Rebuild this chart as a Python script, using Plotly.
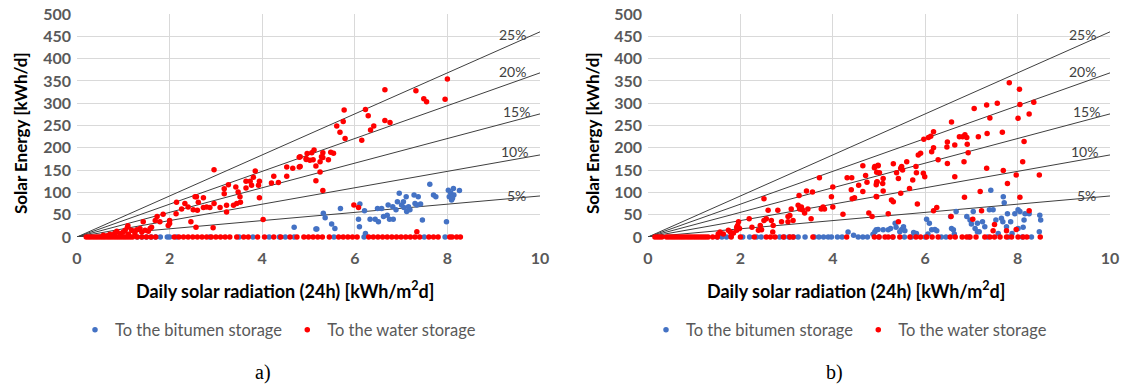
import plotly.graph_objects as go

# ---------------- data ----------------
eff_levels = [5, 10, 15, 20, 25]
eff_labels = ["5%", "10%", "15%", "20%", "25%"]
collector_area = 184.0  # m2 (slope of efficiency lines)
line_x = [0, 10]

# ---- chart a) ----
a_blue_x = [1.3, 1.4, 1.5, 1.6, 1.7, 1.8, 1.95, 2.0, 2.15, 2.87, 3.5, 3.8, 4.15, 4.37, 4.5, 4.69, 5.55, 6.2, 7.5, 7.95,
            4.69, 5.16, 5.32, 5.36, 5.18, 5.50, 5.57, 5.69, 6.11, 6.08, 6.10, 6.21, 6.23, 6.33, 6.44, 6.51, 6.49, 6.58,
            6.62, 6.70, 6.72, 6.75, 6.82, 6.83, 6.89, 6.92, 6.96, 7.01, 7.05, 7.06, 7.11, 7.12, 7.16, 7.19, 7.28, 7.30,
            7.34, 7.37, 7.42, 7.46, 7.62, 7.70, 7.75, 7.98, 8.02, 8.04, 8.07, 8.09, 8.13, 8.14, 8.11, 8.26]
a_blue_y = [0, 0, 0, 0, 0, 0, 0, 0, 0, 0, 0, 0, 0, 0, 0, 0, 0, 0, 0, 0,
            22, 18, 53, 43, 18, 29, 19, 64, 74, 40, 23, 59, 8, 40, 40, 34, 64, 64,
            46, 49, 72, 40, 68, 40, 61, 79, 98, 72, 79, 66, 90, 57, 68, 61, 94, 75,
            72, 90, 74, 38, 118, 94, 90, 34, 105, 90, 99, 83, 109, 94, 87, 104]

a_red_x = [0.2, 0.25, 0.3, 0.35, 0.4, 0.45, 0.5, 0.55, 0.6, 0.65, 0.7, 0.75, 0.8, 0.85, 0.9, 0.95, 1.0, 1.05,
           1.1, 1.15, 1.2, 1.3, 1.4, 1.5, 1.6, 1.7, 2.1, 2.2, 2.3, 2.4, 2.5, 2.6, 2.7, 2.8, 2.9, 3.0, 3.1, 3.2,
           3.3, 3.45, 3.6, 3.7, 3.9, 4.05, 4.25, 4.4, 4.6, 4.75, 4.9, 5.0, 5.1, 5.2, 5.3, 5.45, 5.65, 5.75, 5.85,
           5.95, 6.05, 6.3, 6.4, 6.5, 6.6, 6.7, 6.8, 6.9, 7.0, 7.1, 7.2, 7.3, 7.4, 7.6, 7.7, 7.8, 8.05, 8.1, 8.2, 8.28,
           0.57, 0.71, 0.82, 0.86, 0.93, 1.0, 1.04, 1.11, 1.18, 1.25, 1.29, 1.36, 1.40, 1.47, 1.54, 1.58, 1.61,
           0.65, 0.78, 0.95, 1.09, 1.1, 1.43, 1.73, 1.69, 1.86, 2.0, 2.0, 1.97, 1.79, 2.15, 2.14, 2.26, 2.33, 2.40,
           2.46, 2.57, 2.94, 2.96, 2.55, 2.58, 2.73, 2.62, 2.51, 2.60, 2.73, 2.80, 2.87, 2.96, 3.09, 3.18, 3.18,
           3.23, 3.23, 3.27, 3.38, 3.43, 3.45, 3.48, 3.52, 3.53, 3.65, 3.65, 3.74, 3.77, 3.81, 3.85, 3.94, 3.92,
           3.94, 4.02, 4.20, 4.25, 4.35, 4.53, 4.53, 4.66, 4.80, 4.80, 4.97, 4.95, 5.03,
           4.82, 4.82, 4.95, 5.07, 5.10, 5.12, 5.16, 5.25, 5.28, 5.31, 5.31, 5.43, 5.48, 5.54, 5.25, 5.16, 5.31,
           5.61, 5.68, 5.75, 5.77, 5.79, 5.98, 6.15, 6.29, 6.34, 6.41, 6.65, 6.65, 6.76, 6.23, 6.08, 7.34, 7.32,
           7.49, 7.55, 7.95, 8.0]
a_red_y = [0] * 78 + \
          [4, 6, 9, 13, 7, 11, 15, 6, 15, 9, 16, 19, 11, 15, 13, 19, 22,
           3, 5, 8, 22, 25, 34, 46, 37, 51, 37, 30, 26, 34, 78, 52, 63, 75, 67,
           34, 22, 21, 151, 90, 90, 88, 78, 61, 60, 66, 67, 66, 75, 66, 108, 97,
           71, 56, 117, 71, 112, 75, 101, 90, 78, 125, 110, 125, 116, 134, 148, 88, 116,
           125, 39, 121, 136, 122, 136, 157, 154, 157, 179, 187, 174, 172,
           180, 158, 176, 189, 173, 195, 159, 169, 180, 189, 178, 173, 190, 188, 146, 126, 104, 249,
           235, 259, 285, 221, 72, 217, 272, 240, 249, 261, 330, 257, 286, 66, 12, 328, 310,
           303, 309, 354, 19]

# ---- chart b) ----
b_blue_x = [1.5, 1.6, 1.7, 2.05, 2.2, 2.35, 2.45, 2.85, 2.95, 3.05, 3.15, 3.25, 3.4, 3.6, 3.7, 3.8, 3.9, 3.97,
            4.1, 4.2, 4.55, 4.65, 4.75, 5.0, 5.3, 5.55, 5.7, 6.0, 6.35, 6.45, 6.95, 7.35, 7.8, 8.1, 8.3,
            4.33, 4.45, 4.87, 4.94, 4.91, 4.98, 5.09, 5.20, 5.25, 5.35, 5.37, 5.45, 5.49, 5.53, 5.56, 5.75, 5.81,
            6.03, 6.09, 6.06, 6.14, 6.21, 6.25, 6.55, 6.57, 6.61, 6.67, 6.63, 6.90, 6.97, 7.04, 7.00, 7.08, 7.13,
            7.17, 7.24, 7.29, 7.39, 7.42, 7.47, 7.53, 7.58, 7.65, 7.68, 7.69, 7.71, 7.76, 7.78, 7.85, 7.94, 8.01,
            8.05, 8.14, 8.16, 8.25, 8.47, 8.48, 8.50, 8.01, 8.12, 7.88, 7.13]
b_blue_y = [0] * 35 + \
           [11, 4, 6, 16, 12, 17, 16, 16, 19, 31, 22, 12, 17, 23, 14, 10, 8,
            40, 31, 7, 16, 17, 14, 46, 19, 16, 57, 7, 46, 38, 57, 29, 19, 31,
            12, 34, 23, 61, 105, 61, 38, 8, 42, 34, 90, 77, 23, 52, 34, 52, 61,
            57, 38, 52, 52, 12, 49, 38, 19, 22, 8, 12]

b_red_x = [0.15, 0.2, 0.25, 0.3, 0.4, 0.45, 0.5, 0.55, 0.6, 0.65, 0.7, 0.75, 0.8, 0.85, 0.9, 0.95, 1.0, 1.05,
           1.1, 1.15, 1.2, 1.25, 1.3, 1.4, 1.5, 1.8, 2.0, 2.3, 2.56, 2.65, 2.75, 2.93, 3.07, 3.14, 3.57, 4.3,
           4.9, 5.0, 5.13, 5.2, 5.3, 5.45, 5.67, 5.8, 5.9, 6.03, 6.15, 6.28, 6.54, 6.65, 6.8, 6.9, 6.97, 7.1,
           7.29, 7.4, 7.5, 7.62, 7.76, 7.87, 8.01, 8.12, 8.2, 8.49,
           1.52, 1.56, 1.63, 1.74, 1.78, 1.85, 1.92, 1.94, 1.96, 1.92, 1.98, 1.80, 2.19, 2.25, 2.39, 2.43, 2.46,
           2.51, 2.56, 2.60, 2.51, 2.67, 2.70, 2.71, 2.81, 2.89, 3.03, 3.03, 3.07, 3.10, 3.14, 3.25, 3.27, 3.28,
           3.32, 3.34, 3.39, 3.43, 3.46, 3.53, 3.56, 3.71, 3.75, 3.79, 3.82, 3.97, 4.00, 4.00, 4.22, 4.31, 4.41,
           4.40, 4.42, 4.47, 4.56, 4.65, 4.65, 4.71, 4.74, 4.78, 4.85, 4.90, 4.95, 4.95, 4.94, 4.98,
           4.91, 4.98, 5.01, 4.94, 5.09, 5.08, 4.96, 5.09, 4.95, 5.27, 5.31, 5.20, 5.31, 5.38, 5.42, 5.47, 5.49,
           5.51, 5.60, 5.47, 5.42, 5.66, 5.73, 5.81, 5.80, 5.85, 5.90, 5.83, 5.96, 5.99, 5.97, 6.07, 6.12, 6.18,
           6.14, 6.18, 6.28, 6.18, 6.25, 6.47, 6.48, 6.48, 6.57, 6.64, 6.64, 6.74, 6.81, 6.86, 6.90, 6.91, 6.84,
           6.85, 6.93, 7.06, 7.15, 7.19, 7.33, 7.34, 7.33, 7.40, 7.56, 7.67, 7.69, 7.78, 7.82, 7.97, 8.01, 8.04,
           8.05, 8.05, 8.11, 8.14, 8.25, 8.35, 8.47, 8.25, 7.03, 7.22, 7.47, 7.76, 7.97, 6.56, 7.5]
b_red_y = [0] * 64 + \
          [7, 11, 7, 15, 11, 9, 15, 26, 34, 22, 19, 2, 41, 22, 15, 26, 16,
           86, 41, 60, 37, 37, 11, 26, 60, 34, 46, 34, 48, 63, 37, 71, 93, 63,
           67, 61, 54, 103, 63, 41, 101, 133, 63, 67, 63, 90, 112, 67, 51, 133, 133,
           106, 86, 88, 116, 160, 102, 138, 123, 54, 46, 155, 145, 123, 91, 160,
           158, 161, 144, 117, 131, 120, 124, 103, 90, 83, 79, 52, 164, 144, 131, 154, 158,
           150, 169, 98, 34, 109, 128, 144, 158, 184, 188, 74, 143, 135, 219, 223, 226, 236,
           191, 200, 173, 59, 66, 202, 213, 165, 258, 206, 135, 225, 225, 229, 223, 208, 169,
           89, 189, 288, 225, 102, 296, 232, 154, 267, 300, 235, 149, 120, 346, 139, 266, 331,
           297, 89, 169, 214, 276, 302, 139, 59, 40, 59, 14, 14, 17, 46, 28]

# ---------------- figure ----------------
W, H = 1125, 387
BLUE = "#4472C4"
RED = "#FF0000"
FONT = "Lato"

fig = go.Figure()

panels = [
    dict(xa="x", ya="y", legend="legend", bx=a_blue_x, by=a_blue_y, rx=a_red_x, ry=a_red_y),
    dict(xa="x2", ya="y2", legend="legend2", bx=b_blue_x, by=b_blue_y, rx=b_red_x, ry=b_red_y),
]

for p in panels:
    for e in eff_levels:
        fig.add_trace(go.Scatter(
            x=line_x, y=[0, collector_area * e / 100 * line_x[1]],
            mode="lines", line=dict(color="#3f3f3f", width=1),
            xaxis=p["xa"], yaxis=p["ya"], showlegend=False, hoverinfo="skip"))
    fig.add_trace(go.Scatter(
        x=p["bx"], y=p["by"], mode="markers", name="To the bitumen storage",
        marker=dict(color=BLUE, size=5.5), xaxis=p["xa"], yaxis=p["ya"],
        legend=p["legend"], cliponaxis=False))
    fig.add_trace(go.Scatter(
        x=p["rx"], y=p["ry"], mode="markers", name="To the water storage",
        marker=dict(color=RED, size=5.5), xaxis=p["xa"], yaxis=p["ya"],
        legend=p["legend"], cliponaxis=False))

# label positions for efficiency lines
label_x = [9.5, 9.45, 9.5, 9.4, 9.4]
label_y = [92, 191, 281, 372, 455]

annotations = []
for xa, ya in [("x", "y"), ("x2", "y2")]:
    for lab, lx, ly in zip(eff_labels, label_x, label_y):
        annotations.append(dict(x=lx, y=ly, xref=xa, yref=ya, text=lab, showarrow=False,
                                font=dict(family=FONT, size=14, color="#404040")))


def px(xp):
    return xp / W


def py(yp):
    return 1 - yp / H


for cx, ytx, sub, subx in [(285, 20, "a)", 263), (856, 592, "b)", 834)]:
    annotations.append(dict(x=px(cx), y=py(290), xref="paper", yref="paper",
                            text="<b>Daily solar radiation (24h) [kWh/m<sup>2</sup>d]</b>", showarrow=False,
                            font=dict(family=FONT, size=18, color="#000000"), xanchor="center", yanchor="middle"))
    annotations.append(dict(x=px(ytx), y=py(133), xref="paper", yref="paper",
                            text="<b>Solar Energy [kWh/d]</b>", textangle=-90, showarrow=False,
                            font=dict(family=FONT, size=17, color="#000000"), xanchor="center", yanchor="middle"))
    annotations.append(dict(x=px(subx), y=py(372), xref="paper", yref="paper",
                            text=sub, showarrow=False,
                            font=dict(family="Liberation Serif", size=20, color="#000000"),
                            xanchor="center", yanchor="middle"))

tickfont = dict(family=FONT, size=16, color="#595959", weight="bold")
axis_common = dict(range=[0, 10], dtick=2, showgrid=True, gridcolor="#d9d9d9", gridwidth=1,
                   zeroline=False, showline=False, ticks="", automargin=False, tickfont=tickfont,
                   ticklabelstandoff=10)
yaxis_common = dict(range=[0, 500], dtick=50, showgrid=True, gridcolor="#d9d9d9", gridwidth=1,
                    zeroline=False, showline=False, ticks="", automargin=False, tickfont=tickfont,
                    ticklabelstandoff=5)

dom_y = [py(237), py(14)]
fig.update_layout(
    width=W, height=H,
    margin=dict(l=0, r=0, t=0, b=0, autoexpand=False),
    paper_bgcolor="white", plot_bgcolor="white",
    font=dict(family=FONT),
    xaxis=dict(domain=[px(77), px(540)], anchor="y", **axis_common),
    yaxis=dict(domain=dom_y, anchor="x", **yaxis_common),
    xaxis2=dict(domain=[px(648), px(1110)], anchor="y2", **axis_common),
    yaxis2=dict(domain=dom_y, anchor="x2", **yaxis_common),
    legend=dict(orientation="h", x=px(278), y=py(330), xanchor="center", yanchor="middle",
                font=dict(family=FONT, size=16.5, color="#595959"), itemwidth=30,
                bgcolor="rgba(0,0,0,0)"),
    legend2=dict(orientation="h", x=px(849), y=py(330), xanchor="center", yanchor="middle",
                 font=dict(family=FONT, size=16.5, color="#595959"), itemwidth=30,
                 bgcolor="rgba(0,0,0,0)"),
    annotations=annotations,
    showlegend=True,
)

fig.write_html("out.html", config={"displayModeBar": False},
               post_script="document.body.style.margin='0px';document.body.style.padding='0px';")
